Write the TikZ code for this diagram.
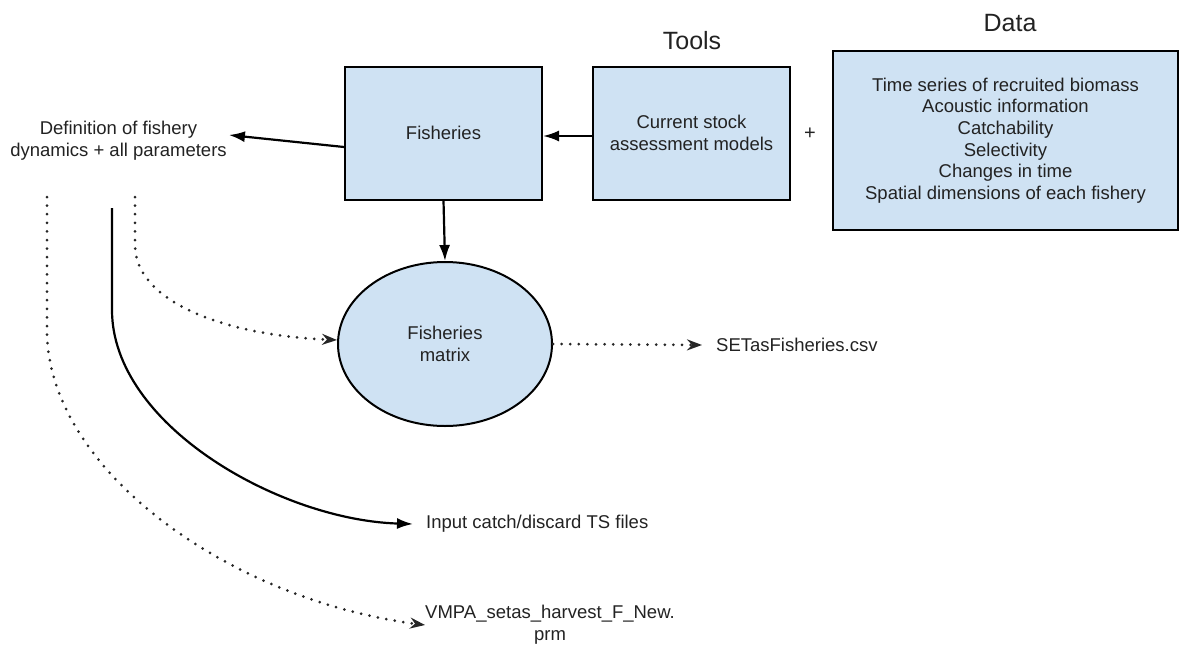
\documentclass[tikz,border=0pt]{standalone}
\usepackage{fontspec}
\setmainfont{Liberation Sans}
\usetikzlibrary{arrows.meta,shapes.geometric}
\definecolor{boxfill}{HTML}{CFE2F3}
\definecolor{ink}{HTML}{222222}
\tikzset{
  boxnode/.style={draw=black, fill=boxfill, line width=2pt, rectangle,
    align=center, inner sep=0pt, text=ink},
  ovalnode/.style={draw=black, fill=boxfill, line width=2pt, ellipse,
    align=center, inner sep=0pt, text=ink},
  txt/.style={align=center, text=ink, font=\fontsize{18.5}{21.7}\selectfont},
  head/.style={text=ink, font=\fontsize{25}{28}\selectfont},
  solidarrow/.style={draw=black, line width=2.2pt, -{Latex[length=16pt,width=11pt]}},
  dotarrow/.style={draw=black!85, line width=3pt, line cap=round,
    dash pattern=on 0pt off 8.6pt, -{Stealth[length=15pt,width=11pt,inset=5pt]}},
}
\begin{document}
\begin{tikzpicture}[x=1pt,y=-1pt]
\useasboundingbox (0,0) rectangle (1180,645);

% column headings
\node[head] (toolslbl) at (692,41) {Tools};
\node[head] (datalbl) at (1010,23) {Data};

% main boxes
\node[boxnode, minimum width=197pt, minimum height=133pt, font=\fontsize{18.5}{21.7}\selectfont]
  (fish) at (443.5,133) {Fisheries};
\node[boxnode, minimum width=197pt, minimum height=133pt, font=\fontsize{18.5}{21.7}\selectfont]
  (cur) at (691.5,133) {Current stock\\assessment models};
\node[txt, font=\fontsize{20}{22}\selectfont] (plus) at (810,134) {+};
\node[boxnode, minimum width=345pt, minimum height=179pt, font=\fontsize{18.5}{21.7}\selectfont]
  (data) at (1005.5,140.5) {Time series of recruited biomass\\Acoustic information\\Catchability\\Selectivity\\Changes in time\\Spatial dimensions of each fishery};

% outputs
\node[txt, inner sep=2pt] (def) at (118.5,141) {Definition of fishery\\dynamics + all parameters};
\node[ovalnode, minimum width=214pt, minimum height=164pt, font=\fontsize{18.5}{21.7}\selectfont]
  (matrix) at (445,344) {Fisheries\\matrix};
\node[txt, anchor=west, inner xsep=14pt] (setcsv) at (702,345) {SETasFisheries.csv};
\node[txt, anchor=west, inner xsep=13pt] (input) at (413,524) {Input catch/discard TS files};
\node[txt, inner sep=0pt] (vmpa) at (550,625) {VMPA\_setas\_harvest\_F\_New.\\prm};

% starting points of the lines below the definition text
\coordinate (innerstart) at (135,197);
\coordinate (solidstart) at (112,208);
\coordinate (outerstart) at (47,197);

% connectors
\draw[solidarrow] ([yshift=-14pt]fish.west) -- ([yshift=6pt]def.east);
\draw[solidarrow] ([yshift=-3pt]cur.west) -- ([yshift=-3pt]fish.east);
\draw[solidarrow] (fish.south) -- (matrix.north);
\draw[dotarrow] (matrix.east) -- (setcsv.west);
\draw[dotarrow] (innerstart) -- (135,245) .. controls (135,300) and (220,335) .. ([yshift=4pt]matrix.west);
\draw[solidarrow] (solidstart) -- (112,310) .. controls (112,425) and (280,520) .. (input.west);
\draw[dotarrow] (outerstart) -- (47,330) .. controls (47,470) and (230,600) .. (vmpa.west);
\end{tikzpicture}
\end{document}
